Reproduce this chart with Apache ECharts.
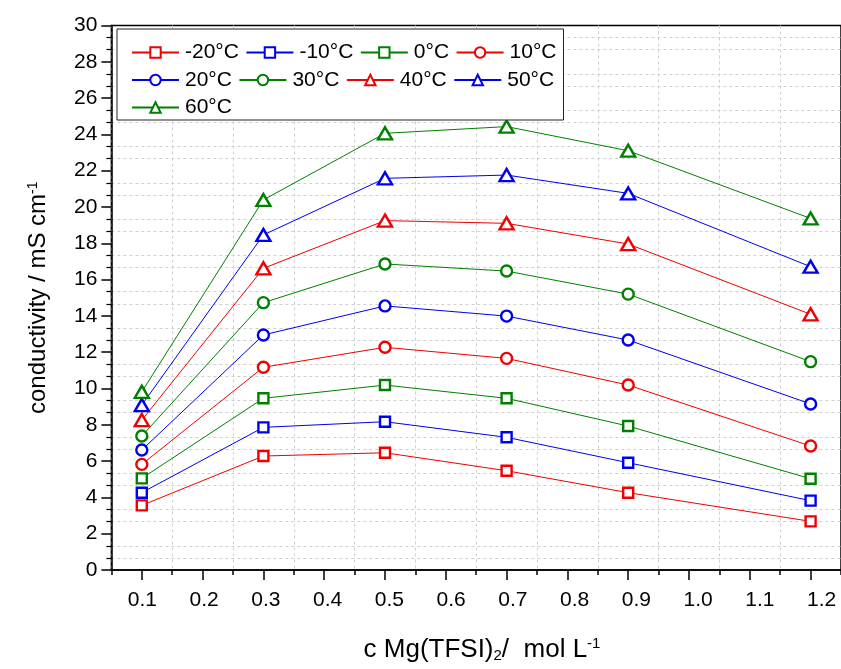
<!DOCTYPE html>
<html>
<head>
<meta charset="utf-8">
<script src="https://cdn.jsdelivr.net/npm/echarts@6/dist/echarts.min.js"></script>
<style>
  html, body { margin: 0; padding: 0; background: #fff; }
  #chart { width: 841px; height: 669px; }
</style>
</head>
<body>
<div id="chart"></div>
<script>
(function() {
    var myChart = echarts.init(document.getElementById('chart'));

    // Mg(TFSI)2 concentration, mol/L
    var conc = [0.1, 0.3, 0.5, 0.7, 0.9, 1.2];

    // conductivity in mS/cm for each temperature
    var tm20 = [3.56, 6.28, 6.46, 5.47, 4.26, 2.68];
    var tm10 = [4.26, 7.86, 8.17, 7.31, 5.91, 3.82];
    var t0 = [5.05, 9.46, 10.19, 9.46, 7.93, 5.03];
    var t10 = [5.82, 11.17, 12.27, 11.66, 10.19, 6.83];
    var t20 = [6.61, 12.95, 14.55, 13.99, 12.67, 9.15];
    var t30 = [7.38, 14.73, 16.86, 16.47, 15.20, 11.48];
    var t40 = [8.26, 16.62, 19.25, 19.10, 17.96, 14.09];
    var t50 = [9.09, 18.46, 21.58, 21.76, 20.75, 16.71];
    var t60 = [9.82, 20.39, 24.06, 24.43, 23.10, 19.37];

    var names = ['-20°C', '-10°C', '0°C', '10°C', '20°C', '30°C', '40°C', '50°C', '60°C'];
    var values = [tm20, tm10, t0, t10, t20, t30, t40, t50, t60];
    var colors = ['#f00000', '#0000f0', '#008000'];
    var symbols = ['rect', 'circle', 'triangle'];

    var FONT = 'Liberation Sans, Arial, sans-serif';

    var series = [];
    for (var i = 0; i < values.length; i++) {
        var c = colors[i % 3];
        var sym = symbols[Math.floor(i / 3)];
        var pts = [];
        for (var j = 0; j < conc.length; j++) {
            pts.push([conc[j], values[i][j]]);
        }
        series.push({
            name: names[i],
            type: 'line',
            xAxisIndex: 0,
            yAxisIndex: 0,
            data: pts,
            symbol: sym,
            symbolSize: sym === 'triangle' ? [14, 12] : (sym === 'rect' ? 10 : 11),
            showAllSymbol: true,
            lineStyle: { color: c, width: 1 },
            itemStyle: { color: '#fff', borderColor: c, borderWidth: 2.4 },
            emphasis: { disabled: true },
            animation: false
        });
    }

    var dashed = { show: true, lineStyle: { color: '#cfcfcf', type: [3, 3], width: 1 } };

    var option = {
        backgroundColor: '#fff',
        animation: false,
        legend: {
            left: 117,
            top: 29,
            width: 432,
            padding: [13, 7, 2, 14],
            itemWidth: 47,
            itemHeight: 13,
            itemGap: 6.5,
            backgroundColor: '#fff',
            borderColor: '#222',
            borderWidth: 1,
            textStyle: { fontFamily: FONT, fontSize: 21, lineHeight: 19, color: '#000', padding: [0, 0, 0, 1] },
            data: names
        },
        grid: [{
            left: 111.4,
            top: 25.5,
            width: 741.2,
            height: 544.5,
            show: true,
            borderColor: '#000',
            borderWidth: 1.5,
            backgroundColor: 'transparent'
        }, {
            left: 142.3,
            top: 25.5,
            width: 679.4,
            height: 544.5
        }],
        xAxis: [{
            // plot axis: short ticks + grid lines at 0.05 offsets, long minor ticks at 0.1 steps
            type: 'value',
            gridIndex: 0,
            min: 0.05,
            max: 1.25,
            interval: 0.1,
            axisLine: { show: true, onZero: false, lineStyle: { color: '#000', width: 1.5 } },
            axisTick: { show: true, length: 5, lineStyle: { color: '#000', width: 1.5 } },
            minorTick: { show: true, splitNumber: 2, length: 10, lineStyle: { color: '#000', width: 1.5 } },
            axisLabel: { show: false },
            splitLine: dashed
        }, {
            // tick labels 0.1 ... 1.2
            type: 'value',
            gridIndex: 1,
            min: 0.1,
            max: 1.2,
            interval: 0.1,
            axisLine: { show: false },
            axisTick: { show: false },
            splitLine: { show: false },
            axisLabel: {
                margin: 20,
                fontFamily: FONT,
                fontSize: 21,
                color: '#000',
                formatter: function(v) { return v.toFixed(1); }
            },
            name: 'c Mg(TFSI){sub|2}/  mol L{sup|-1}',
            nameLocation: 'middle',
            nameGap: 66,
            nameTextStyle: {
                fontFamily: FONT,
                fontSize: 26,
                color: '#000',
                rich: {
                    sub: { fontFamily: FONT, fontSize: 15, color: '#000', verticalAlign: 'bottom', padding: [12, 0, 0, 0] },
                    sup: { fontFamily: FONT, fontSize: 15, color: '#000', verticalAlign: 'top', padding: [0, 0, 10, 0] }
                }
            }
        }],
        yAxis: [{
            type: 'value',
            gridIndex: 0,
            min: 0,
            max: 30,
            interval: 2,
            axisLine: { show: true, onZero: false, lineStyle: { color: '#000', width: 1.5 } },
            axisTick: { show: true, length: 10, lineStyle: { color: '#000', width: 1.5 } },
            minorTick: { show: true, splitNumber: 3, length: 5, lineStyle: { color: '#000', width: 1.2 } },
            splitLine: { show: false },
            minorSplitLine: dashed,
            axisLabel: { margin: 14, fontFamily: FONT, fontSize: 21, color: '#000' },
            name: 'conductivity / mS cm{sup|-1}',
            nameLocation: 'middle',
            nameRotate: 90,
            nameGap: 61,
            nameTextStyle: {
                fontFamily: FONT,
                fontSize: 24,
                color: '#000',
                rich: {
                    sup: { fontFamily: FONT, fontSize: 14, color: '#000', verticalAlign: 'top', padding: [0, 0, 10, 0] }
                }
            }
        }, {
            type: 'value',
            gridIndex: 1,
            min: 0,
            max: 30,
            show: false
        }],
        series: series
    };

    myChart.setOption(option);
})();
</script>
</body>
</html>
